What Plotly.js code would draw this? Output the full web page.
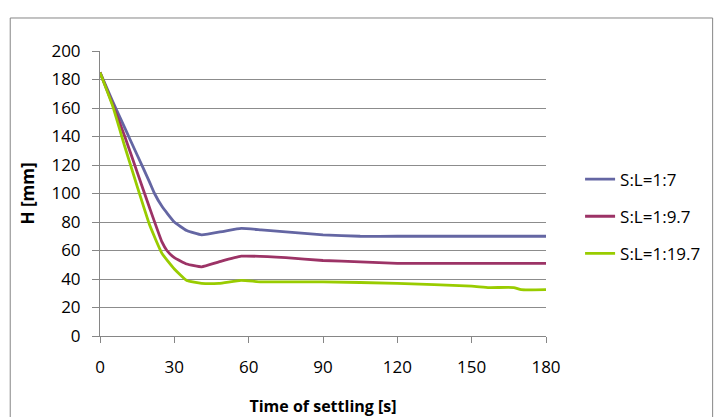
<!DOCTYPE html>
<html>
<head>
<meta charset="utf-8">
<script src="https://cdn.plot.ly/plotly-3.0.1.min.js"></script>
<style>html,body{margin:0;padding:0;background:#fff;}#chart{width:717px;height:417px;}</style>
</head>
<body>
<div id="chart"></div>
<script>
const seriesNames = ["S:L=1:7", "S:L=1:9.7", "S:L=1:19.7"];

const timeA = [0, 5, 10, 15, 20, 22, 25, 30, 35, 41, 50, 57, 65, 75, 90, 105, 120, 150, 180];
const hA    = [185, 165, 146, 127, 108, 100, 91, 80, 74, 71, 73.5, 75.5, 74.5, 73, 71, 70, 70, 70, 70];

const timeB = [0, 5, 10, 15, 20, 25, 27, 30, 35, 41, 48, 57, 75, 90, 105, 120, 150, 180];
const hB    = [185, 163, 140, 115, 90, 66, 60, 55, 50.5, 48.5, 52, 56, 55, 53, 52, 51, 51, 51];

const timeC = [0, 5, 10, 15, 20, 25, 30, 35, 41, 48, 57, 65, 90, 120, 150, 157, 167, 170, 180];
const hC    = [185, 162, 133, 105, 78, 58, 47, 39, 37, 37, 39, 38, 38, 37, 35, 34, 34, 32.5, 32.5];

const xTicks = [0, 30, 60, 90, 120, 150, 180];
const yTicks = [0, 20, 40, 60, 80, 100, 120, 140, 160, 180, 200];

const colors = ["#6466A3", "#9C3366", "#99CC00"];
const xs = [timeA, timeB, timeC];
const ys = [hA, hB, hC];

const font = "Open Sans, Lato, Liberation Sans, sans-serif";

const traces = seriesNames.map((n, i) => ({
  x: xs[i], y: ys[i], name: n, type: "scatter", mode: "lines",
  legendgroup: "g" + i,
  line: {color: colors[i], width: 2.8, shape: "spline", smoothing: 0.4}
}));

const layout = {
  width: 717, height: 417,
  margin: {l: 100, r: 170, t: 51, b: 81},
  paper_bgcolor: "#ffffff", plot_bgcolor: "#ffffff",
  font: {family: font, size: 17, color: "#000"},
  showlegend: true,
  legend: {x: 1.074, y: 0.419, xanchor: "left", yanchor: "middle",
           font: {family: font, size: 17, color: "#000"},
           tracegroupgap: 12, itemwidth: 30, bgcolor: "rgba(0,0,0,0)"},
  xaxis: {
    range: [0, 180], tickvals: xTicks, ticktext: xTicks.map(String),
    showgrid: false, zeroline: false,
    showline: true, linecolor: "#868686", linewidth: 1,
    ticks: "outside", ticklen: 6, tickcolor: "#868686", tickwidth: 1,
    ticklabelstandoff: 10,
    tickfont: {family: font, size: 17},
    title: {text: "<b>Time of settling [s]</b>", font: {family: font, size: 16}, standoff: 23},
    automargin: false, fixedrange: true
  },
  yaxis: {
    range: [0, 200], tickvals: yTicks, ticktext: yTicks.map(String),
    showgrid: true, gridcolor: "#8c8c8c", gridwidth: 1,
    zeroline: false,
    showline: true, linecolor: "#868686", linewidth: 1,
    ticks: "outside", ticklen: 7, tickcolor: "#868686", tickwidth: 1,
    ticklabelstandoff: 8,
    tickfont: {family: font, size: 17},
    title: {text: "<b>H [mm]</b>", font: {family: font, size: 17}, standoff: 12},
    automargin: false, fixedrange: true
  },
  shapes: [{
    type: "rect", xref: "paper", yref: "paper",
    x0: -0.2013, x1: 1.3736, y0: -0.3, y1: 1.1158,
    line: {color: "#868686", width: 1}, fillcolor: "rgba(0,0,0,0)", layer: "below"
  }]
};

Plotly.newPlot("chart", traces, layout, {staticPlot: true, displayModeBar: false});
</script>
</body>
</html>
